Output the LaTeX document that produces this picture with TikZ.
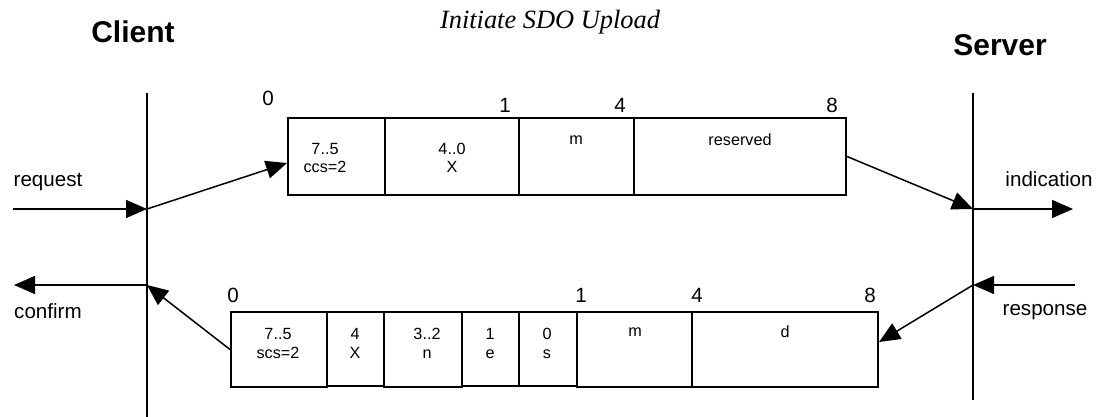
\documentclass[tikz,border=0pt]{standalone}
\usepackage{fontspec}
\setmainfont{Liberation Sans}
\newfontfamily\titlefont{Liberation Serif}
\usetikzlibrary{arrows.meta,calc,fit}
\begin{document}
\begin{tikzpicture}[x=0.5pt,y=-0.5pt,line width=0.75pt,
  tip/.style={-{Triangle[length=10.5pt,width=9pt]}},
  cellbox/.style={draw,line width=1pt,inner sep=0pt},
  celltxt/.style={font=\fontsize{8.1pt}{8.3pt}\selectfont,align=center,inner sep=0pt},
  lbl/.style={font=\fontsize{10.3pt}{12pt}\selectfont,inner sep=0pt},
  posn/.style={font=\fontsize{10.3pt}{12pt}\selectfont,inner sep=0pt},
  actor/.style={font=\bfseries\fontsize{15pt}{17pt}\selectfont,inner sep=0pt}]
\useasboundingbox (0,0) rectangle (1096,417);

% titles
\node[actor] (client) at (133,32) {Client};
\node[actor] (server) at (1000,45) {Server};
\node[font=\titlefont\itshape\fontsize{13.2pt}{15pt}\selectfont,inner sep=0pt] (title) at (550,22) {Initiate SDO Upload};

% life lines
\coordinate (clt) at (147,93);
\coordinate (clb) at (147,417);
\coordinate (svt) at (973,93);
\coordinate (svb) at (973,400);
\draw (clt) -- (clb);
\draw (svt) -- (svb);

% points on life lines
\coordinate (clreq) at (147,209);
\coordinate (clcon) at (147,285);
\coordinate (svind) at (973,209);
\coordinate (svres) at (973,285);
\coordinate (reqstart) at (13,209);
\coordinate (conend) at (14,285);
\coordinate (indend) at (1073,209);
\coordinate (resstart) at (1075,285);

% request frame
\node[cellbox,fit={(288,118) (385,195)}] (a1) {};
\node[cellbox,fit={(385,118) (519,195)}] (a2) {};
\node[cellbox,fit={(519,118) (634,195)}] (a3) {};
\node[cellbox,fit={(634,118) (846,195)}] (a4) {};
\node[celltxt] (a1t) at (325,158) {7..5\\[1pt]ccs=2};
\node[celltxt] (a2t) at (452,158) {4..0\\[1pt]X};
\node[celltxt] (a3t) at (576,140) {m};
\node[celltxt] (a4t) at (740,140) {reserved};
\node[posn] (a0n) at (268,98) {0};
\node[posn] (a1n) at (505,105) {1};
\node[posn] (a4n) at (620,105) {4};
\node[posn] (a8n) at (832,105) {8};

% response frame
\node[cellbox,fit={(231,312) (327,387)}] (b1) {};
\node[cellbox,fit={(327,312) (384,385.5)}] (b2) {};
\node[cellbox,fit={(384,312) (462,387)}] (b3) {};
\node[cellbox,fit={(462,312) (519,386)}] (b4) {};
\node[cellbox,fit={(519,312) (577,386)}] (b5) {};
\node[cellbox,fit={(577,312) (692,387)}] (b6) {};
\node[cellbox,fit={(692,312) (878,387)}] (b7) {};
\node[celltxt] (b1t) at (278,343.5) {7..5\\[1pt]scs=2};
\node[celltxt] (b2t) at (355,343.5) {4\\[1pt]X};
\node[celltxt] (b3t) at (427,343.5) {3..2\\[1pt]n};
\node[celltxt] (b4t) at (490,343.5) {1\\[1pt]e};
\node[celltxt] (b5t) at (547,343.5) {0\\[1pt]s};
\node[celltxt] (b6t) at (635,332) {m};
\node[celltxt] (b7t) at (785,332) {d};
\node[posn] (b0n) at (233,295) {0};
\node[posn] (b1n) at (581,295) {1};
\node[posn] (b4n) at (697,295) {4};
\node[posn] (b8n) at (870,295) {8};

% service labels
\node[lbl] (req) at (48,182) {request};
\node[lbl] (ind) at (1049,179) {indication};
\node[lbl] (con) at (48,311) {confirm};
\node[lbl] (res) at (1045,312) {response};

% arrows
\draw[tip] (reqstart) -- (clreq);
\draw[tip] (clreq) -- ([yshift=-3.25pt]a1.west);
\draw[tip] (a4.east) -- (svind);
\draw[tip] (svind) -- (indend);
\draw[tip] (resstart) -- (svres);
\draw[tip] (svres) -- ([yshift=3.75pt]b7.east);
\draw[tip] (b1.west) -- (clcon);
\draw[tip] (clcon) -- (conend);
\end{tikzpicture}
\end{document}
